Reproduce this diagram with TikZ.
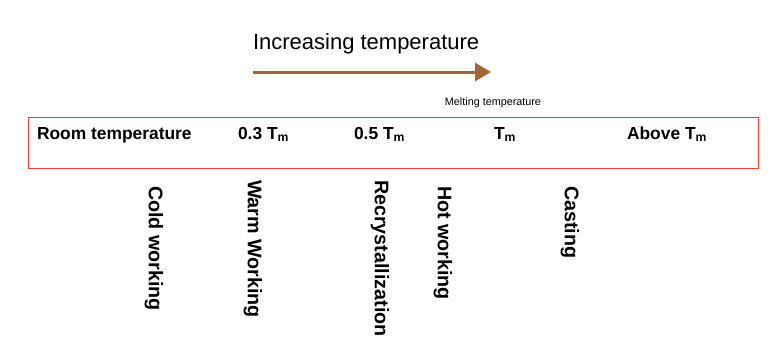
\documentclass[tikz,border=0pt]{standalone}
\usepackage{fontspec}
\setmainfont{Liberation Sans}
\usetikzlibrary{arrows.meta}
\definecolor{tempbrown}{RGB}{160,104,52}
\definecolor{boxred}{RGB}{250,60,60}
\begin{document}
\begin{tikzpicture}
[x=1pt,y=-1pt,%
  every node/.style={inner sep=0pt,outer sep=0pt},%
  temp/.style={anchor=base west,font=\fontsize{17.4}{20}\selectfont\bfseries},%
  process/.style={anchor=west,rotate=-90,font=\fontsize{19.7}{22}\selectfont\bfseries}]
\useasboundingbox (0,0) rectangle (777,362);
\node[anchor=base west,font=\fontsize{22}{26}\selectfont] (title) at (253,49) {Increasing temperature};
\coordinate (from) at (253,72);
\coordinate (to) at (491,72);
\draw[-{Triangle[length=16pt,width=18pt]},line width=3pt,tempbrown] (from) -- (to);
\node[font=\fontsize{10.8}{12}\selectfont] (melt) at (493,103) {Melting temperature};
\node[draw=boxred,line width=1pt,minimum width=730pt,minimum height=51pt,anchor=north west] (scale) at (28,117) {};
\node[temp] (room) at (37,139) {Room temperature};
\node[temp] (warm) at (238,139) {0.3 T\textsubscript{m}};
\node[temp] (recr) at (354,139) {0.5 T\textsubscript{m}};
\node[temp] (tm) at (494,139) {T\textsubscript{m}};
\node[temp] (above) at (627,139) {Above T\textsubscript{m}};
\node[process] (cold) at (154,186) {Cold working};
\node[process] (warmw) at (253,180) {Warm Working};
\node[process] (recry) at (380,180) {Recrystallization};
\node[process] (hot) at (443,186) {Hot working};
\node[process] (cast) at (570,186) {Casting};
\end{tikzpicture}
\end{document}
